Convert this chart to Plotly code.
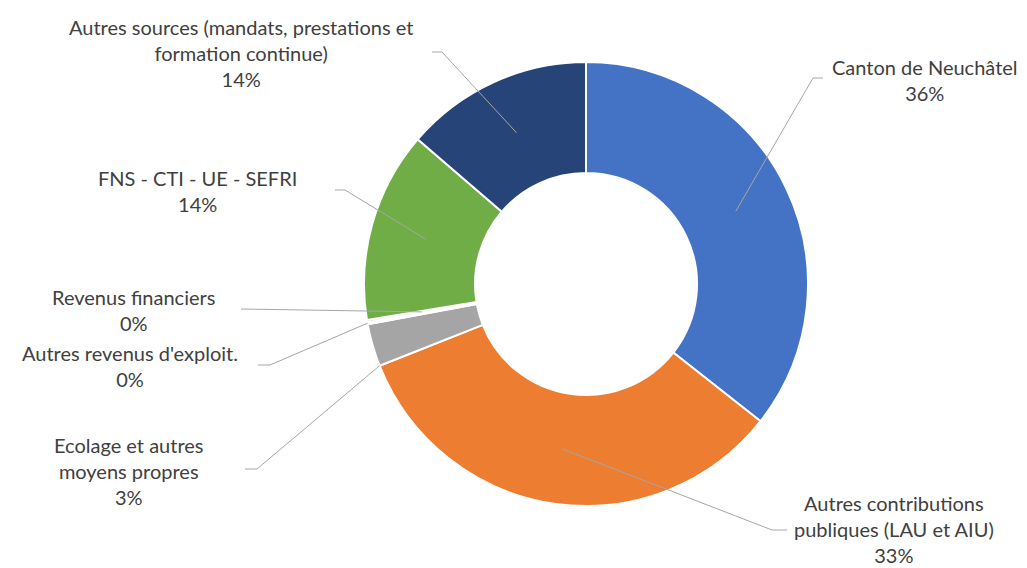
import math
import plotly.graph_objects as go

# ---- data ----
categories = [
    "Canton de Neuchâtel",
    "Autres contributions publiques (LAU et AIU)",
    "Ecolage et autres moyens propres",
    "Autres revenus d'exploit.",
    "Revenus financiers",
    "FNS - CTI - UE - SEFRI",
    "Autres sources (mandats, prestations et formation continue)",
]
values = [35.6, 33.4, 3.1, 0.15, 0.15, 13.9, 13.7]
label_text = [
    "Canton de Neuchâtel",
    "Autres contributions<br>publiques (LAU et AIU)",
    "Ecolage et autres<br>moyens propres",
    "Autres revenus d'exploit.",
    "Revenus financiers",
    "FNS - CTI - UE - SEFRI",
    "Autres sources (mandats, prestations et<br>formation continue)",
]
colors = ["#4472C4", "#ED7D31", "#A5A5A5", "#FFC000", "#5B9BD5", "#70AD47", "#264478"]

# ---- layout (page pixels) ----
W, H = 1027, 568
OFF = 8  # page body margin
CX, CY, R = 586, 284, 222
HOLE = 0.5
label_pos = [(925, 80), (894, 529), (129, 471), (130, 366), (133, 310), (197, 191), (241, 53)]
leaders = [
    (823, 813, 78, 0.5, 0.75),
    (787, 772, 530, 0.5, 0.75),
    (245, 257, 469, 0.0, 1.0),
    (258, 270, 365, 0.5, 1.0),
    (241, 241, 309, 0.5, 0.75),
    (335, 345, 190, 0.5, 0.75),
    (432, 442, 52, 0.5, 0.75),
]

total = sum(values)

fx, fy = CX - OFF, CY - OFF
fig = go.Figure()
fig.add_trace(go.Pie(
    labels=categories,
    values=values,
    sort=False,
    direction="clockwise",
    rotation=0,
    hole=HOLE,
    textinfo="none",
    marker=dict(colors=colors, line=dict(color="white", width=2)),
    showlegend=False,
    domain=dict(x=[(fx - R) / W, (fx + R) / W], y=[1 - (fy + R) / H, 1 - (fy - R) / H]),
))

shapes = []
annotations = []
cum = 0.0
for i, v in enumerate(values):
    sx, ex, ly, frac, rf = leaders[i]
    theta = math.radians((cum + frac * v) / total * 360.0)
    r = R * rf
    px = CX + r * math.sin(theta)
    py = CY - r * math.cos(theta)
    path = f"M {sx},{ly} L {ex},{ly} L {px:.1f},{py:.1f}"
    shapes.append(dict(type="path", path=path, xref="x", yref="y",
                       line=dict(color="#A6A6A6", width=1), layer="above"))
    pct = f"{v / total * 100:.0f}%"
    lx, lyc = label_pos[i]
    annotations.append(dict(
        x=lx, y=lyc, xref="x", yref="y", text=f"{label_text[i]}<br>{pct}",
        showarrow=False, xanchor="center", yanchor="middle", align="center",
        font=dict(family="Lato", size=20, color="#404040"),
    ))
    cum += v

fig.update_layout(
    width=W, height=H,
    margin=dict(l=0, r=0, t=0, b=0),
    paper_bgcolor="white", plot_bgcolor="white",
    xaxis=dict(range=[OFF, W + OFF], visible=False, domain=[0, 1], fixedrange=True),
    yaxis=dict(range=[H + OFF, OFF], visible=False, domain=[0, 1], fixedrange=True),
    shapes=shapes,
    annotations=annotations,
)

fig.write_html("out.html")
